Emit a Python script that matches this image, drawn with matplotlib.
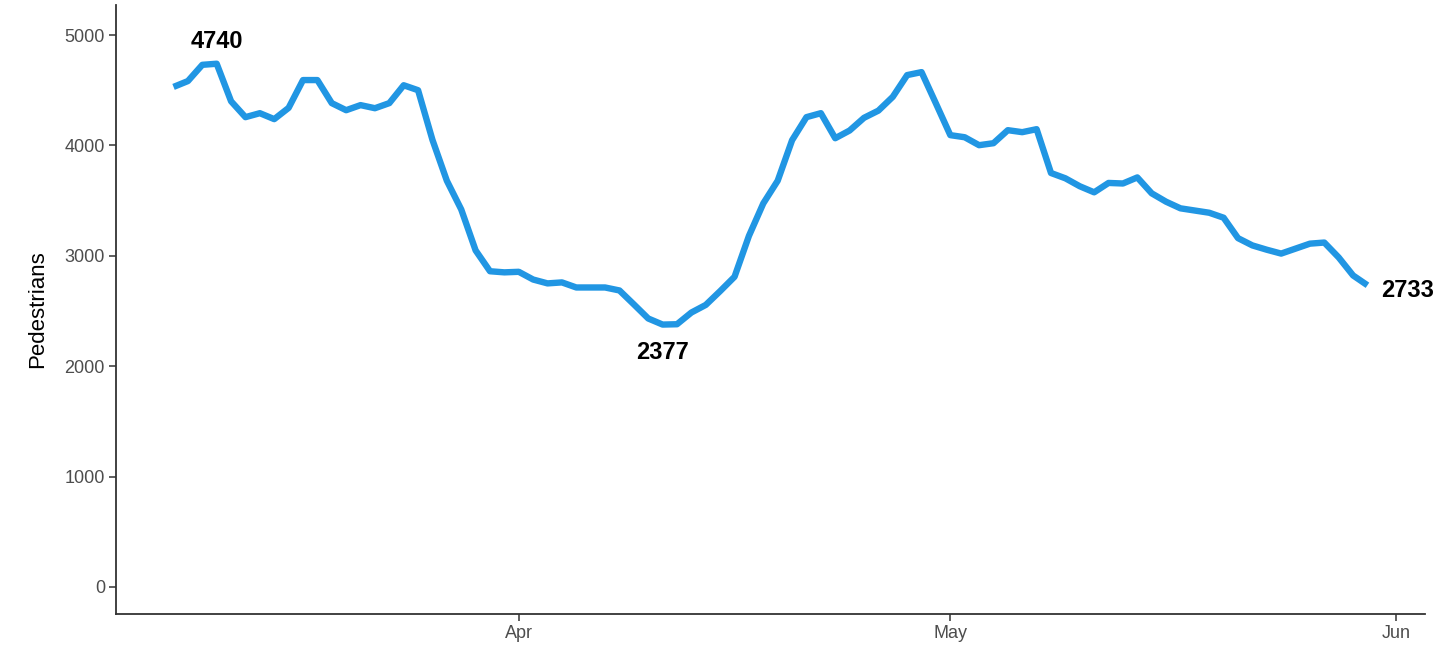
import datetime as dt
import matplotlib
matplotlib.use("Agg")
import matplotlib.pyplot as plt
import matplotlib.dates as mdates

# daily pedestrian counts, 8 Mar - 30 May
start = dt.date(2020, 3, 8)
counts = [
    4530, 4583, 4730, 4740, 4400, 4256, 4292, 4238, 4340, 4592,
    4592, 4383, 4319, 4365, 4337, 4383, 4545, 4500, 4050, 3680,
    3420, 3049, 2860, 2850, 2855, 2785, 2750, 2759, 2713, 2713,
    2713, 2686, 2560, 2432, 2377, 2380, 2486, 2555, 2680, 2810,
    3180, 3475, 3680, 4047, 4256, 4292, 4065, 4135, 4250, 4315,
    4440, 4637, 4664, 4380, 4093, 4074, 4002, 4020, 4138, 4120,
    4147, 3750, 3702, 3630, 3575, 3660, 3655, 3710, 3566, 3490,
    3430, 3410, 3390, 3345, 3160, 3094, 3055, 3020, 3065, 3110,
    3120, 2985, 2822, 2733,
]
dates = [start + dt.timedelta(days=i) for i in range(len(counts))]

# labelled points: max, min, last
i_max = counts.index(max(counts))
i_min = counts.index(min(counts))
i_last = len(counts) - 1

fig = plt.figure(figsize=(14.43, 6.45), dpi=100)
ax = fig.add_axes([116 / 1443, 31 / 645, (1425 - 116) / 1443, (614 - 5) / 645])

ax.plot(dates, counts, color="#2196E3", lw=4.6, solid_capstyle="butt")

lab = dict(fontsize=17, fontweight="bold", family="Liberation Sans",
           textcoords="offset points")
ax.annotate(str(counts[i_max]), (dates[i_max], counts[i_max]), xytext=(0, 8),
            ha="center", va="bottom", **lab)
ax.annotate(str(counts[i_min]), (dates[i_min], counts[i_min]), xytext=(0, -12),
            ha="center", va="top", **lab)
ax.annotate(str(counts[i_last]), (dates[i_last], counts[i_last]), xytext=(10, -4),
            ha="left", va="center", **lab)

ax.set_ylim(-245, 5272)
ax.set_xlim(dt.date(2020, 3, 4), dt.date(2020, 6, 3))
ax.set_yticks([0, 1000, 2000, 3000, 4000, 5000])
ax.xaxis.set_major_locator(mdates.MonthLocator())
ax.xaxis.set_major_formatter(mdates.DateFormatter("%b"))

for s in ["top", "right"]:
    ax.spines[s].set_visible(False)
for s in ["left", "bottom"]:
    ax.spines[s].set_linewidth(1.3)
    ax.spines[s].set_color("#333333")

ax.tick_params(axis="both", length=5, width=1.1, color="#333333",
               labelcolor="#4d4d4d", labelsize=13, pad=3)
for t in ax.get_yticklabels() + ax.get_xticklabels():
    t.set_family("Liberation Sans")

ax.set_ylabel("Pedestrians", fontsize=16, family="Liberation Sans", labelpad=12)

fig.savefig("out.png", dpi=100)
